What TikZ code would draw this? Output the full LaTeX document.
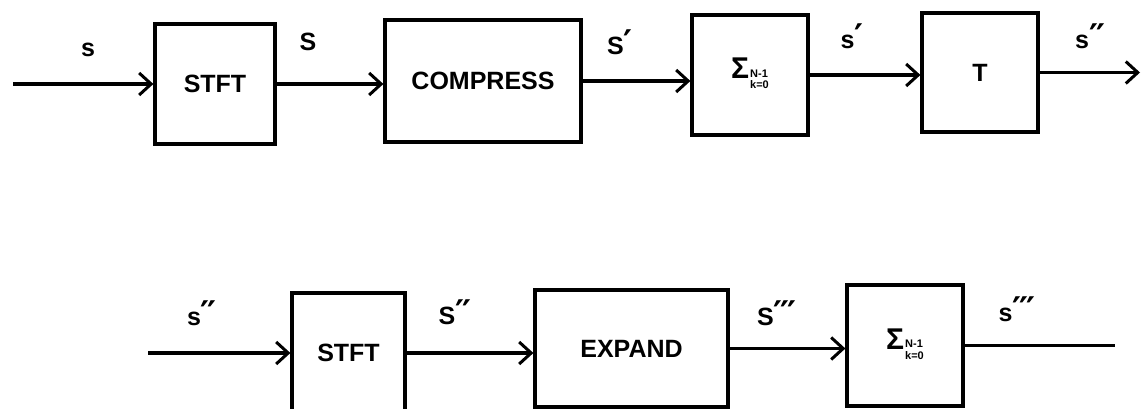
\documentclass[tikz,border=0pt]{standalone}
\usepackage{fontspec}
\setmainfont{Liberation Sans}
\newfontfamily\primefont{DejaVu Sans}
\usetikzlibrary{arrows.meta}
\newcommand{\sumlbl}{\fontsize{30}{30}\selectfont Σ\kern1pt\raisebox{-0.3ex}{\fontsize{11}{11}\selectfont\begin{tabular}{@{}l@{}}N-1\\k=0\end{tabular}}}
\newcommand{\pr}{{\primefont\bfseries\fontsize{34}{34}\selectfont ′}}
\newcommand{\prk}{\kern-2pt}
\begin{document}
\begin{tikzpicture}[x=1pt,y=-1pt,
  blk/.style={draw,line width=3.2pt,inner sep=0pt,font=\fontsize{25}{25}\selectfont\bfseries},
  conn/.style={line width=3.2pt},
  arr/.style={conn,-{Straight Barb[length=12pt,width=22pt,line width=3pt]}},
  lbl/.style={font=\fontsize{25}{25}\selectfont\bfseries,inner sep=0pt}]
\useasboundingbox (0,0) rectangle (1143,409);
\clip (0,0) rectangle (1143,409);
% top row
\node[blk,minimum width=120pt,minimum height=120pt] (stft1) at (215,84) {STFT};
\node[blk,minimum width=196pt,minimum height=122pt] (comp) at (483,81) {COMPRESS};
\node[blk,minimum width=116pt,minimum height=120pt] (sum1) at (750,75) {\sumlbl};
\node[blk,minimum width=116pt,minimum height=119pt] (tb) at (980,72.5) {T};
\coordinate (in1) at (13,84);
\coordinate (out1) at (1140,72.5);
\draw[arr] (in1) -- (stft1.west);
\draw[arr] (stft1.east) -- (stft1.east -| comp.west);
\draw[arr] (comp.east) -- (comp.east -| sum1.west);
\draw[arr] (sum1.east) -- (sum1.east -| tb.west);
\draw[arr] (tb.east) -- (out1);
\node[lbl] (l1) at (88,50) {s};
\node[lbl] (l2) at (308,42) {S};
\node[lbl] (l3) at (620,42) {S\pr};
\node[lbl] (l4) at (852,36) {s\pr};
\node[lbl] (l5) at (1090,36) {s\pr\prk\pr};
% bottom row
\node[blk,minimum width=113pt,minimum height=120pt] (stft2) at (348.5,353) {STFT};
\node[blk,minimum width=193pt,minimum height=117pt] (exp) at (631.5,348.5) {EXPAND};
\node[blk,minimum width=116pt,minimum height=121pt] (sum2) at (905,345.5) {\sumlbl};
\coordinate (in2) at (148,353);
\coordinate (out2) at (1115,345.5);
\draw[arr] (in2) -- (stft2.west);
\draw[arr] (stft2.east) -- (stft2.east -| exp.west);
\draw[arr] (exp.east) -- (exp.east -| sum2.west);
\draw[conn] (sum2.east) -- (out2);
\node[lbl] (l6) at (202,313) {s\pr\prk\pr};
\node[lbl] (l7) at (455,312) {S\pr\prk\pr};
\node[lbl] (l8) at (777,313) {S\pr\prk\pr\prk\pr};
\node[lbl] (l9) at (1017,309) {s\pr\prk\pr\prk\pr};
\end{tikzpicture}
\end{document}
